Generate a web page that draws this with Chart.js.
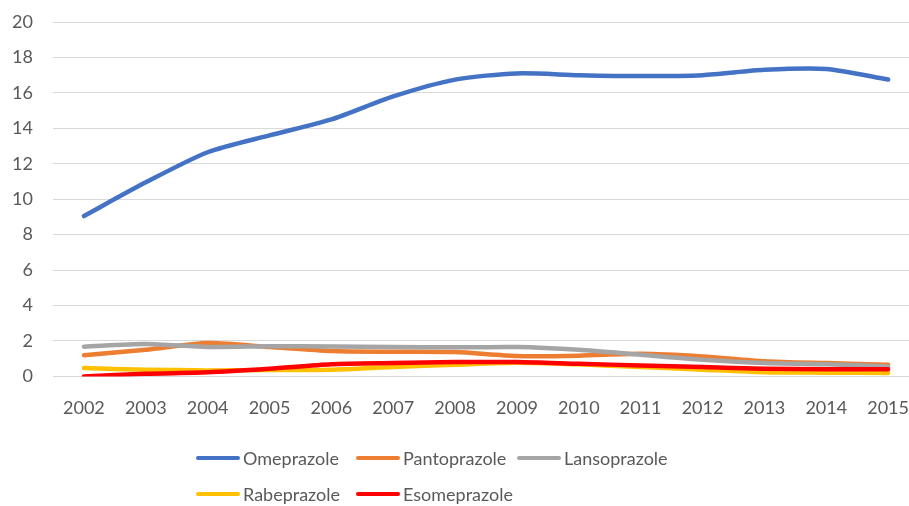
<!DOCTYPE html>
<html>
<head>
<meta charset="utf-8">
<script src="https://cdn.jsdelivr.net/npm/chart.js@4/dist/chart.umd.min.js"></script>
<style>
  html, body { margin: 0; padding: 0; background: #fff; overflow: hidden; }
  #wrap { width: 909px; height: 506px; overflow: hidden; }
</style>
</head>
<body>
<div id="wrap"><canvas id="ppiChart" width="930" height="506"></canvas></div>
<script>
// anos
const years = ['2002', '2003', '2004', '2005', '2006', '2007', '2008', '2009', '2010', '2011', '2012', '2013', '2014', '2015'];

// valores por substância
const omeprazole   = [9.05, 10.95, 12.65, 13.6, 14.5, 15.8, 16.75, 17.1, 17.0, 16.95, 17.0, 17.3, 17.35, 16.75];
const pantoprazole = [1.2, 1.5, 1.88, 1.66, 1.43, 1.39, 1.37, 1.15, 1.17, 1.28, 1.13, 0.86, 0.75, 0.66];
const lansoprazole = [1.68, 1.83, 1.66, 1.7, 1.69, 1.66, 1.64, 1.66, 1.5, 1.22, 0.94, 0.75, 0.68, 0.56];
const rabeprazole  = [0.47, 0.38, 0.34, 0.36, 0.38, 0.53, 0.66, 0.77, 0.68, 0.53, 0.38, 0.24, 0.21, 0.19];
const esomeprazole = [0.0, 0.15, 0.23, 0.43, 0.68, 0.75, 0.81, 0.81, 0.71, 0.62, 0.53, 0.43, 0.41, 0.4];

const yTicks = [0, 2, 4, 6, 8, 10, 12, 14, 16, 18, 20];

const names  = ['Omeprazole', 'Pantoprazole', 'Lansoprazole', 'Rabeprazole', 'Esomeprazole'];
const series = [omeprazole, pantoprazole, lansoprazole, rabeprazole, esomeprazole];
const colors = ['#4472C4', '#ED7D31', '#A5A5A5', '#FFC000', '#FF0000'];

const FONT = 'Lato, "Open Sans", sans-serif';
const TEXT = '#595959';

// legenda no estilo do Excel (linhas alinhadas à esquerda)
const excelLegend = {
    id: 'excelLegend',
    afterDraw(chart) {
        const ctx = chart.ctx;
        const cols = [196, 356, 517];
        const rows = [458, 494];
        ctx.save();
        ctx.font = '18px ' + FONT;
        ctx.fillStyle = TEXT;
        ctx.textBaseline = 'middle';
        chart.data.datasets.forEach((ds, i) => {
            const x = cols[i % 3];
            const y = rows[Math.floor(i / 3)];
            ctx.strokeStyle = ds.borderColor;
            ctx.lineWidth = 4;
            ctx.lineCap = 'round';
            ctx.beginPath();
            ctx.moveTo(x + 2, y);
            ctx.lineTo(x + 42, y);
            ctx.stroke();
            ctx.fillText(ds.label, x + 47, y + 1);
        });
        ctx.restore();
    }
};

const ctx = document.getElementById('ppiChart').getContext('2d');
const chart = new Chart(ctx, {
    type: 'line',
    data: {
        labels: years,
        datasets: series.map((data, i) => ({
            label: names[i],
            data: data,
            borderColor: colors[i],
            backgroundColor: colors[i],
            borderWidth: 4.5,
            borderCapStyle: 'round',
            pointRadius: 0,
            tension: 0.25,
            order: names.length - i
        }))
    },
    options: {
        responsive: false,
        animation: false,
        layout: {
            padding: { top: 22, left: 0, right: 0, bottom: 66 }
        },
        plugins: {
            legend: { display: false },
            tooltip: { enabled: false }
        },
        scales: {
            x: {
                offset: true,
                grid: { display: false, drawTicks: false },
                border: { display: false },
                ticks: {
                    color: TEXT,
                    font: { family: FONT, size: 18 },
                    padding: 21,
                    maxRotation: 0
                }
            },
            y: {
                min: 0,
                max: 20,
                afterBuildTicks: (axis) => {
                    axis.ticks = yTicks.map(v => ({ value: v }));
                },
                afterFit: (axis) => {
                    axis.width = 53;
                    axis.paddingTop = 0;
                    axis.paddingBottom = 0;
                },
                grid: { color: '#d9d9d9', lineWidth: 1, drawTicks: false },
                border: { display: false },
                ticks: {
                    color: TEXT,
                    font: { family: FONT, size: 18 },
                    padding: 20
                }
            }
        }
    },
    plugins: [excelLegend]
});
</script>
</body>
</html>
